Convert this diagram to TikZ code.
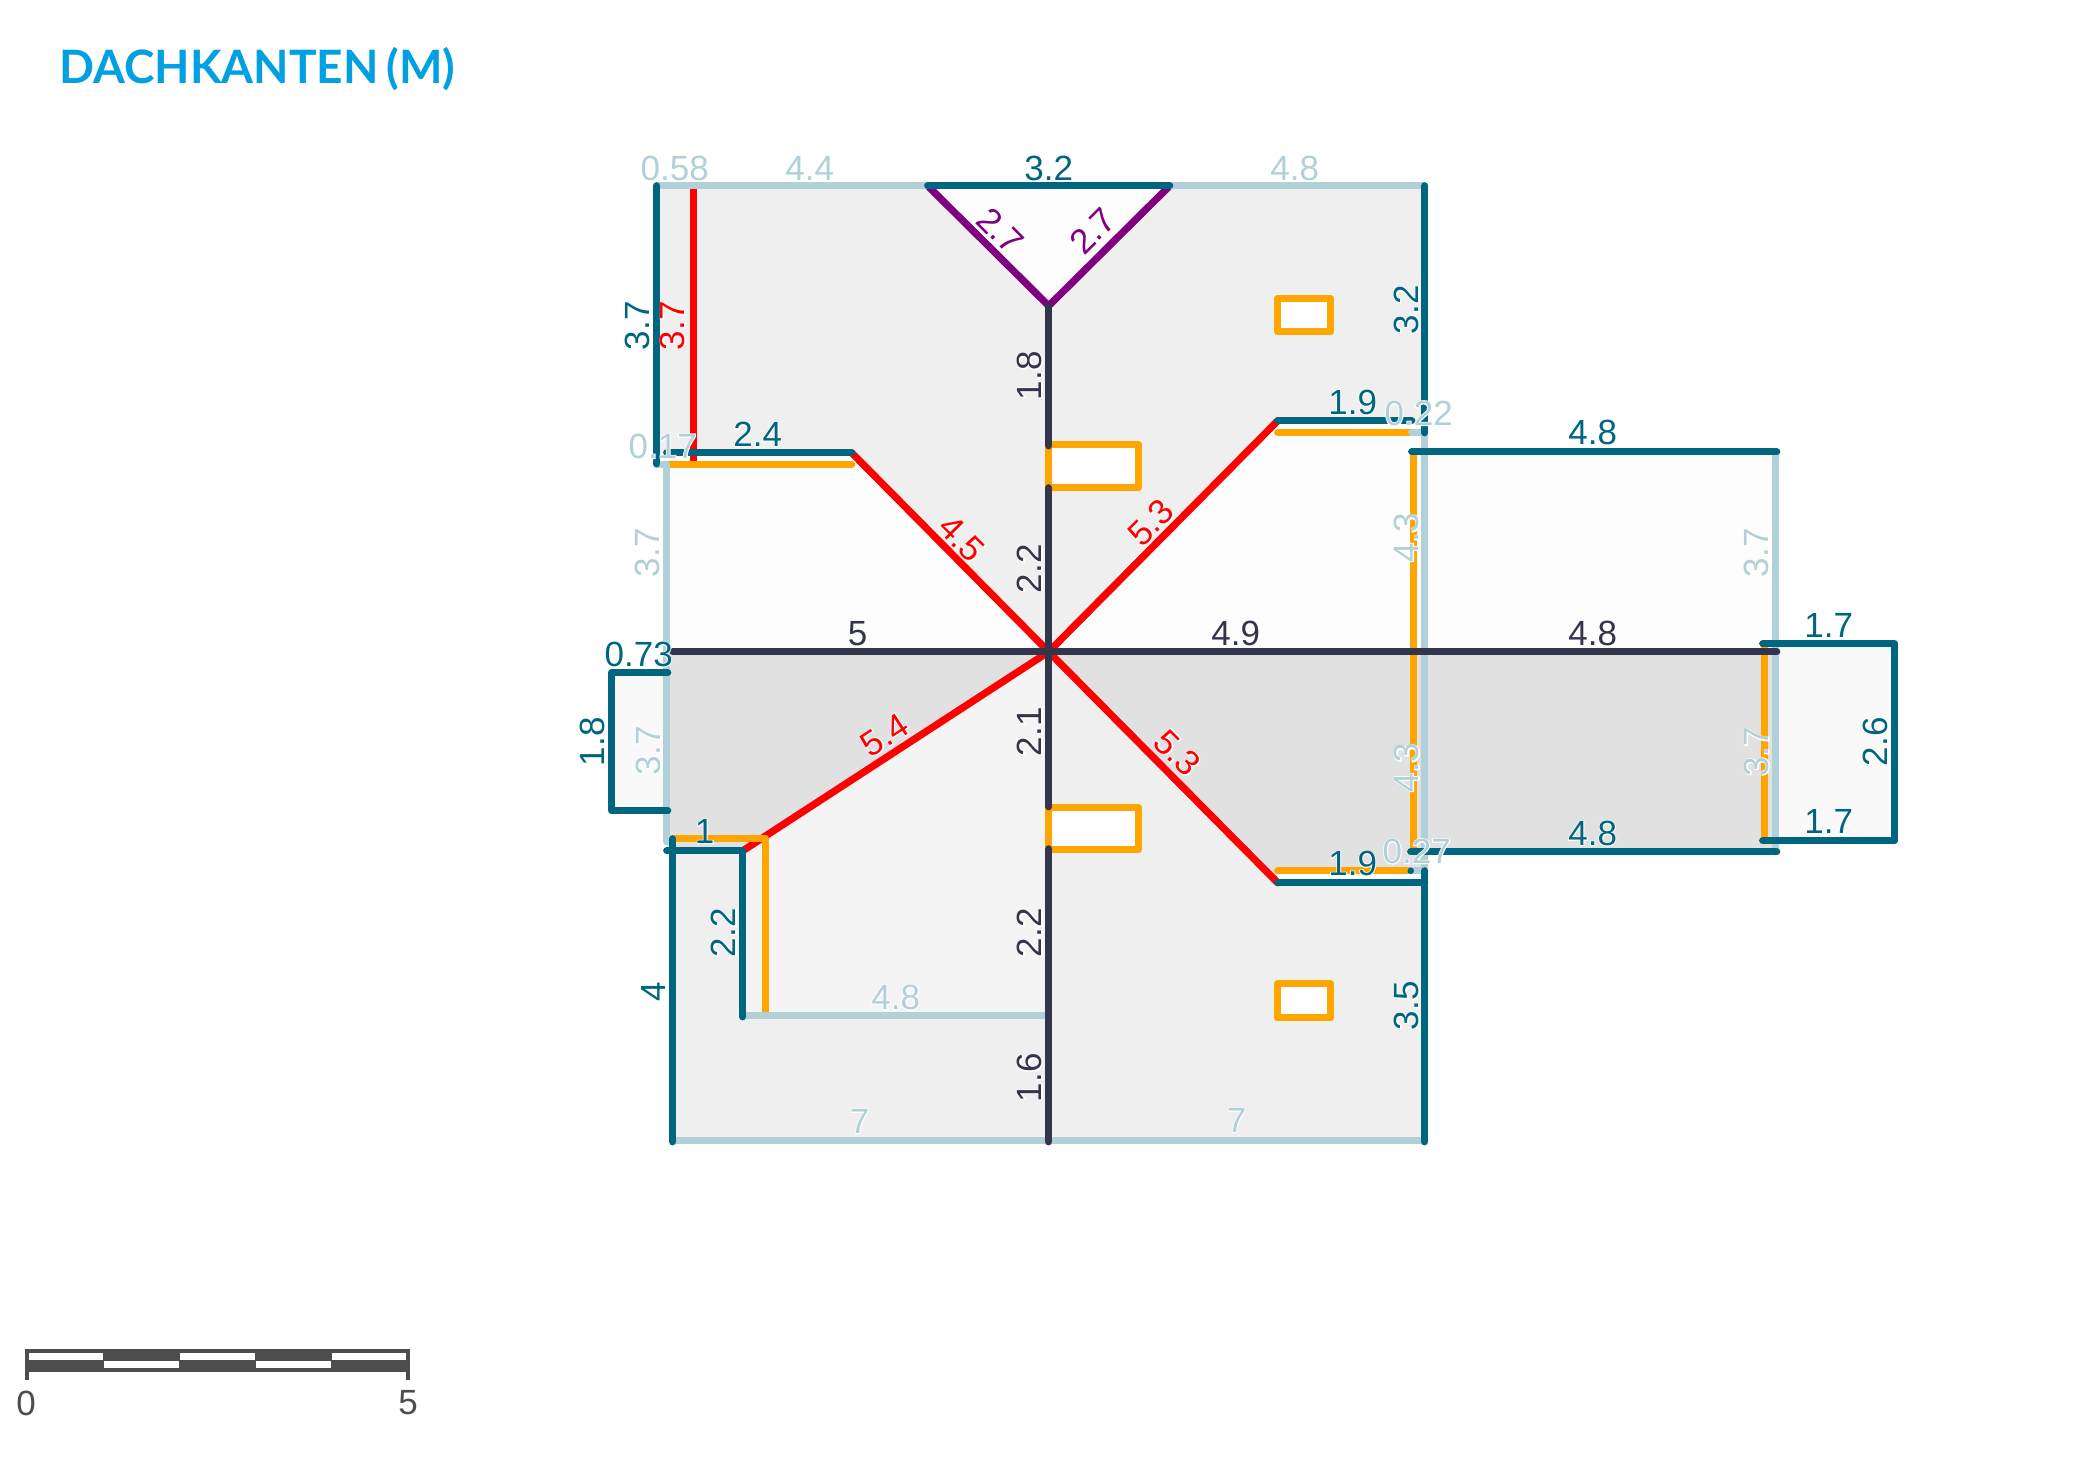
\documentclass[tikz,border=0pt]{standalone}
\usepackage{fontspec}
\setmainfont{Liberation Sans}
\newfontfamily\halofont[FakeBold=5]{Liberation Sans}
\newfontfamily\titlefont{Lato}
\definecolor{teal0}{HTML}{006680}
\definecolor{light0}{HTML}{B2D0D8}
\definecolor{dark0}{HTML}{33354D}
\definecolor{red0}{HTML}{FF0000}
\definecolor{orange0}{HTML}{FFA500}
\definecolor{purple0}{HTML}{800080}
\definecolor{grey0}{HTML}{4D4D4D}
\definecolor{title0}{HTML}{00A0E3}
\definecolor{f1}{HTML}{EFEFEF}
\definecolor{f2}{HTML}{FDFDFD}
\definecolor{f3}{HTML}{E1E1E1}
\definecolor{f4}{HTML}{F4F4F4}
\definecolor{f5}{HTML}{F9F9F9}
\tikzset{
  edge/.style={line width=7.2pt,line cap=round,line join=round},
  te/.style={edge,draw=teal0},
  li/.style={edge,draw=light0},
  da/.style={edge,draw=dark0},
  re/.style={edge,draw=red0},
  or/.style={edge,draw=orange0},
  pu/.style={edge,draw=purple0},
  sky/.style={line width=7.2pt,draw=orange0,fill=white,line join=round},
  lbl/.style={inner sep=0pt,font=\fontsize{35}{35}\selectfont},
}
\newcount\labn
\newcommand{\lab}[5]{\global\advance\labn by 1
  \node[lbl,rotate=#3,yshift=\ifnum#3=0 1pt\else 0pt\fi] (lab\the\labn) at (#1,#2) {\rlap{\halofont\color{white}#5}{\color{#4}#5}};}
\begin{document}
\begin{tikzpicture}[x=1pt,y=-1pt]
\useasboundingbox (0,0) rectangle (2096,1477);
\fill[white] (0,0) rectangle (2096,1477);
\begin{scope}[shift={(-0.3,0.8)}]
% roof faces
\fill[f1] (657,185)--(928,185)--(1049,305)--(1170,185)--(1425,185)--(1425,420)--(1278,420)--(1049,651)--(852,452)--(657,452)--cycle;
\fill[f2] (928,185)--(1170,185)--(1049,305)--cycle;
\fill[f2] (667,452)--(852,452)--(1049,651)--(1278,420)--(1425,432)--(1425,651)--(667,651)--cycle;
\fill[f2] (1425,451)--(1776,451)--(1776,651)--(1425,651)--cycle;
\fill[f3] (667,651)--(1049,651)--(743,850)--(667,850)--cycle;
\fill[f3] (1049,651)--(1278,882)--(1278,870)--(1425,870)--(1425,851)--(1776,851)--(1776,651)--cycle;
\fill[f4] (1049,651)--(743,850)--(743,1015)--(1049,1015)--cycle;
\fill[f1] (673,850)--(743,850)--(743,1015)--(1049,1015)--(1049,651)--(1278,882)--(1425,882)--(1425,1140)--(673,1140)--cycle;
\fill[f5] (612,672)--(667,672)--(667,810)--(612,810)--cycle;
\fill[f5] (1776,643)--(1895,643)--(1895,840)--(1776,840)--cycle;
% hips and valleys
\draw[re] (693.7,185)--(693.7,460);
\draw[re] (852,452)--(1049,651);
\draw[re] (1278,420)--(1049,651);
\draw[re] (743,850)--(1049,651);
\draw[re] (1278,882)--(1049,651);
\draw[pu] (928,185)--(1049,305)--(1170,185);
% orange
\draw[or] (673,838)--(766,838)--(766,1013);
\draw[or] (667,464)--(852,464);
\draw[or] (1278,432)--(1412,432);
\draw[or] (1278,870)--(1410,870);
\draw[or] (1414,451)--(1414,850);
\draw[or] (1764.5,643)--(1764.5,840);
% skylights
\draw[sky] (1049,444) rectangle (1139,487);
\draw[sky] (1049,807) rectangle (1139,849);
\draw[sky] (1278,298) rectangle (1331,331);
\draw[sky] (1278,983) rectangle (1331,1017);
% eaves and gables
\draw[li] (657,185)--(928,185);
\draw[li] (1170,185)--(1425,185);
\draw[li] (657,464)--(667,464);
\draw[li] (667,464)--(667,841);
\draw[li] (1412,432)--(1425,432);
\draw[li] (1425,432)--(1425,870);
\draw[li] (1411,870)--(1425,870);
\draw[li] (1776,451)--(1776,851);
\draw[li] (743,1015)--(1049,1015);
\draw[li] (673,1140)--(1425,1140);
% ridges
\draw[da] (1049,305)--(1049,445);
\draw[da] (1049,487)--(1049,806);
\draw[da] (1049,848)--(1049,1141);
\draw[da] (673,651)--(1777,651);
% eave lines (teal)
\draw[te] (657,185)--(657,463);
\draw[te] (928,185)--(1170,185);
\draw[te] (667,452)--(852,452);
\draw[te] (1425,185)--(1425,432);
\draw[te] (1278,420)--(1412,420);
\draw[te] (1412,451)--(1777,451);
\draw[te] (1763,643)--(1895,643)--(1895,840)--(1763,840);
\draw[te] (1411,851)--(1777,851);
\fill[teal0] (1411,870) circle (3.3);
\draw[te] (1278,882)--(1425,882);
\draw[te] (1425,870)--(1425,1141);
\draw[te] (668,672)--(612,672)--(612,810)--(668,810);
\draw[te] (667,850)--(743,850)--(743,1016);
\draw[te] (673,838)--(673,1141);
% labels
\lab{675}{167.5}{0}{light0}{0.58}
\lab{810}{167.5}{0}{light0}{4.4}
\lab{1049}{167.5}{0}{teal0}{3.2}
\lab{1295}{167.5}{0}{light0}{4.8}
\lab{638}{325}{90}{teal0}{3.7}
\lab{673}{325}{90}{red0}{3.7}
\lab{1001}{230}{-45}{purple0}{2.7}
\lab{1093}{230}{45}{purple0}{2.7}
\lab{1030}{375}{90}{dark0}{1.8}
\lab{663}{445.5}{0}{light0}{0.17}
\lab{758}{433.5}{0}{teal0}{2.4}
\lab{1353}{401.5}{0}{teal0}{1.9}
\lab{1419}{412.5}{0}{light0}{0.22}
\lab{1593}{431.5}{0}{teal0}{4.8}
\lab{1407}{309}{90}{teal0}{3.2}
\lab{648}{552}{90}{light0}{3.7}
\lab{1030}{568}{90}{dark0}{2.2}
\lab{962}{538}{-45}{red0}{4.5}
\lab{1151}{522}{45}{red0}{5.3}
\lab{858}{632.5}{0}{dark0}{5}
\lab{1236}{632.5}{0}{dark0}{4.9}
\lab{1593}{632.5}{0}{dark0}{4.8}
\lab{639}{653.5}{0}{teal0}{0.73}
\lab{1829}{624.5}{0}{teal0}{1.7}
\lab{1757}{552}{90}{light0}{3.7}
\lab{1407}{537}{90}{light0}{4.3}
\lab{1407}{767}{90}{light0}{4.3}
\lab{1757}{751}{90}{light0}{3.7}
\lab{1876}{741}{90}{teal0}{2.6}
\lab{1829}{820.5}{0}{teal0}{1.7}
\lab{1593}{832.5}{0}{teal0}{4.8}
\lab{1353}{862.5}{0}{teal0}{1.9}
\lab{1417}{850.5}{0}{light0}{0.27}
\lab{1178}{752}{-45}{red0}{5.3}
\lab{885}{734}{33}{red0}{5.4}
\lab{1030}{731}{90}{dark0}{2.1}
\lab{593}{741}{90}{teal0}{1.8}
\lab{649}{750}{90}{light0}{3.7}
\lab{705}{830.5}{0}{teal0}{1}
\lab{724}{932}{90}{teal0}{2.2}
\lab{1030}{932}{90}{dark0}{2.2}
\lab{654}{991}{90}{teal0}{4}
\lab{896}{996.5}{0}{light0}{4.8}
\lab{1030}{1077}{90}{dark0}{1.6}
\lab{860}{1120.5}{0}{light0}{7}
\lab{1237}{1119.5}{0}{light0}{7}
\lab{1407}{1005}{90}{teal0}{3.5}
\end{scope}
% title
\node[anchor=west,inner sep=0pt,text=title0,font=\titlefont\bfseries\fontsize{46}{46}\selectfont] (title) at (59,69.5) {DACHKANTEN\hspace{-3pt} (M)};
% scale bar
\begin{scope}[yshift=-1pt]
\fill[grey0] (25,1348) rectangle (410,1371);
\fill[grey0] (25,1348) rectangle (29,1379);
\fill[grey0] (406,1348) rectangle (410,1379);
\fill[white] (29,1352) rectangle (103,1359);
\fill[white] (180,1352) rectangle (255,1359);
\fill[white] (332,1352) rectangle (406,1359);
\fill[white] (104,1360) rectangle (179,1367);
\fill[white] (256,1360) rectangle (331,1367);
\node[inner sep=0pt,text=grey0,font=\fontsize{35}{35}\selectfont] (zero) at (26,1402) {0};
\node[inner sep=0pt,text=grey0,font=\fontsize{35}{35}\selectfont] (five) at (408,1402) {5};
\end{scope}
\end{tikzpicture}
\end{document}
